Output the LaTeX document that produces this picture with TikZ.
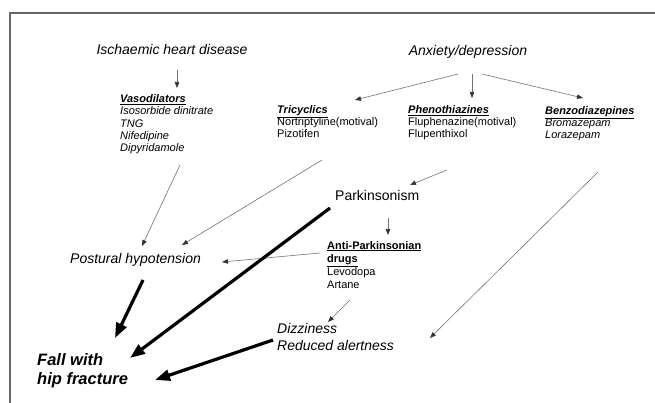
\documentclass[tikz,border=0pt]{standalone}
\usepackage{fontspec}
\setmainfont{Liberation Sans}
\usetikzlibrary{arrows.meta,calc}

\tikzset{
  big/.style={font=\fontsize{14}{17}\selectfont, inner sep=0pt, align=left},
  small/.style={font=\fontsize{11}{12.4}\selectfont, inner sep=0pt, align=left, anchor=base west},
  faint/.style={-{Triangle[length=6pt,width=4.5pt,color=black!80]}, draw=black!55, line width=0.6pt},
  heavy/.style={-{Triangle[length=15pt,width=11pt]}, line width=3.2pt},
}

\begin{document}
\begin{tikzpicture}[x=1pt, y=-1pt]
  \useasboundingbox (0,0) rectangle (655,403);
  % frame
  \draw[black!60, line width=1.2pt] (655,13) -- (10,13) -- (10,403);
  % Causes
  \node[big, anchor=base] (ihd) at (172,55) {\textit{Ischaemic heart disease}};
  \node[big, anchor=base] (anx) at (468,56) {\textit{Anxiety/depression}};
  % Drug groups (placed at the baseline of their last line)
  \node[small] (vaso) at (120,152)
  {\underline{\textbf{\textit{Vasodilators}}}\\\textit{Isosorbide dinitrate}\\\textit{TNG}\\\textit{Nifedipine}\\\textit{Dipyridamole}};
  \node[small] (tric) at (277,138)
  {\underline{\textbf{\textit{Tricyclics}}}\\Nortriptyline(motival)\\Pizotifen};
  \node[small] (pheno) at (408,138)
  {\underline{\textbf{\textit{Phenothiazines}}}\\Fluphenazine(motival)\\Flupenthixol};
  \node[small] (benzo) at (545,139)
  {\underline{\textbf{\textit{Benzodiazepines}}}\\\textit{Bromazepam}\\\textit{Lorazepam}};
  % Middle
  \node[big, anchor=base west] (park) at (335,201) {Parkinsonism};
  \node[small, font=\fontsize{11}{13}\selectfont] (antip) at (327,288)
  {\underline{\textbf{Anti-Parkinsonian}}\\\underline{\textbf{drugs}}\\Levodopa\\Artane};
  \node[big, anchor=base west] (posthyp) at (70,263) {\textit{Postural hypotension}};
  \node[big, anchor=base west] (dizzy) at (277,350) {\textit{Dizziness}\\\textit{Reduced alertness}};
  % Outcome
  \node[big, anchor=base west, font=\fontsize{16.5}{19}\selectfont\bfseries\itshape] (fall) at (37,384)
  {Fall with\\hip fracture};
  % Thin arrows
  \draw[faint] ($(ihd.base)+(5,15)$) -- ($(vaso.base west)+(57,-64)$);
  \draw[faint] ($(anx.base)+(-10,18)$) -- ($(tric.base west)+(78,-38)$);
  \draw[faint] ($(anx.base)+(4,18)$) -- ($(pheno.base west)+(64,-40)$);
  \draw[faint] ($(anx.base)+(14,18)$) -- ($(benzo.base west)+(38,-41)$);
  \draw[faint] ($(vaso.base west)+(60,13)$) -- ($(posthyp.base west)+(72,-17)$);
  \draw[faint] ($(tric.base west)+(45,22)$) -- ($(posthyp.base west)+(112,-18)$);
  \draw[faint] ($(pheno.base west)+(39,32)$) -- ($(park.base west)+(75,-16)$);
  \draw[faint] ($(park.base west)+(53,17)$) -- ($(antip.base west)+(61,-53)$);
  \draw[faint] ($(antip.base west)+(-7,-35)$) -- ($(posthyp.base west)+(152,-1)$);
  \draw[faint] ($(antip.base west)+(23,12)$) -- ($(dizzy.base west)+(51,-28)$);
  \draw[faint] ($(benzo.base west)+(53,33)$) -- ($(dizzy.base west)+(153,-12)$);
  % Thick arrows
  \draw[heavy] ($(park.base west)+(-5,7)$) -- ($(fall.base west)+(93,-26)$);
  \draw[heavy] ($(posthyp.base west)+(73,17)$) -- ($(fall.base west)+(78,-46)$);
  \draw[heavy] ($(dizzy.base west)+(-4,-10)$) -- ($(fall.base west)+(118,-4)$);
\end{tikzpicture}
\end{document}
